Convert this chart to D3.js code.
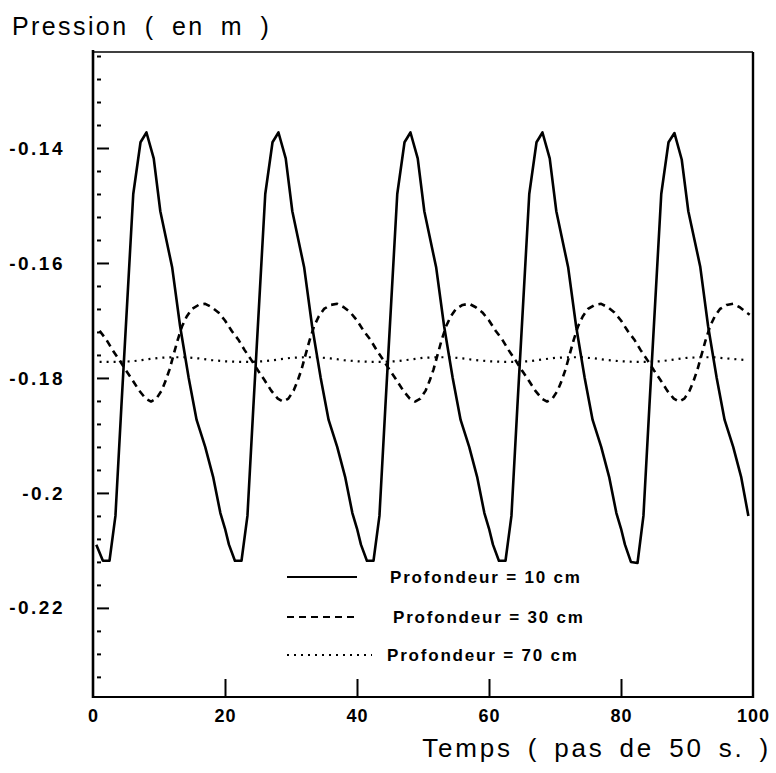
<!DOCTYPE html>
<html><head><meta charset="utf-8">
<script src="https://cdn.jsdelivr.net/npm/d3@7"></script>
<style>body{margin:0;background:#fff}svg{display:block}</style>
</head><body><svg id="c" width="776" height="773"></svg>
<script>
// ---- data ----
const xTickValues=[0,20,40,60,80,100];
const xTickLabels=["0","20","40","60","80","100"];
const yTickValues=[-0.14,-0.16,-0.18,-0.2,-0.22];
const yTickLabels=["-0.14","-0.16","-0.18","-0.2","-0.22"];
const yMinorTicks=[-0.124,-0.128,-0.132,-0.136,-0.144,-0.148,-0.152,-0.156,-0.164,-0.168,-0.172,-0.176,-0.184,-0.188,-0.192,-0.196,-0.204,-0.208,-0.212,-0.216,-0.224,-0.228,-0.232];
const legendLabels=["Profondeur = 10 cm","Profondeur = 30 cm","Profondeur = 70 cm"];
const titleY="Pression ( en m )";
const titleX="Temps ( pas de 50 s. )";

const temps10=[
0.5,1.5,2.5,3.4,4.3,5.2,6.1,7.2,8.1,9.2,10.2,12.0,13.2,14.5,15.7,17.0,18.2,19.3,
20.0,20.6,21.5,22.5,23.4,24.3,25.2,26.1,27.2,28.1,29.2,30.2,32.0,33.2,34.5,35.7,37.0,38.2,39.3,
40.0,40.6,41.5,42.5,43.4,44.3,45.2,46.1,47.2,48.1,49.2,50.2,52.0,53.2,54.5,55.7,57.0,58.2,59.3,
60.0,60.6,61.5,62.5,63.4,64.3,65.2,66.1,67.2,68.1,69.2,70.2,72.0,73.2,74.5,75.7,77.0,78.2,79.3,
80.0,80.6,81.5,82.5,83.4,84.3,85.2,86.1,87.2,88.1,89.2,90.2,92.0,93.2,94.5,95.7,97.0,98.2,99.3];
const pression10=[
-0.2090,-0.2118,-0.2118,-0.2040,-0.1850,-0.1665,-0.1480,-0.1390,-0.1373,-0.1418,-0.1510,-0.1608,-0.1710,-0.1800,-0.1873,-0.1920,-0.1972,-0.2035,
-0.2062,-0.2090,-0.2118,-0.2118,-0.2040,-0.1850,-0.1665,-0.1480,-0.1390,-0.1373,-0.1418,-0.1510,-0.1608,-0.1710,-0.1800,-0.1873,-0.1920,-0.1972,-0.2035,
-0.2062,-0.2090,-0.2118,-0.2118,-0.2040,-0.1850,-0.1665,-0.1480,-0.1390,-0.1373,-0.1418,-0.1510,-0.1608,-0.1710,-0.1800,-0.1873,-0.1920,-0.1972,-0.2035,
-0.2062,-0.2090,-0.2118,-0.2118,-0.2040,-0.1850,-0.1665,-0.1480,-0.1390,-0.1373,-0.1418,-0.1510,-0.1608,-0.1710,-0.1800,-0.1873,-0.1920,-0.1972,-0.2035,
-0.2062,-0.2090,-0.2120,-0.2122,-0.2040,-0.1850,-0.1665,-0.1480,-0.1390,-0.1374,-0.1420,-0.1510,-0.1606,-0.1710,-0.1800,-0.1873,-0.1920,-0.1972,-0.2040];

const temps30=[
1,2,3,4,5,6,7,8,8.8,9.6,10.4,11,11.6,12.2,12.8,13.5,14.2,15,16,17,18,19,
20,21,22,23,24,25,26,27,28,28.8,29.6,30.4,31,31.6,32.2,32.8,33.5,34.2,35,36,37,38,39,
40,41,42,43,44,45,46,47,48,48.8,49.6,50.4,51,51.6,52.2,52.8,53.5,54.2,55,56,57,58,59,
60,61,62,63,64,65,66,67,68,68.8,69.6,70.4,71,71.6,72.2,72.8,73.5,74.2,75,76,77,78,79,
80,81,82,83,84,85,86,87,88,88.8,89.6,90.4,91,91.6,92.2,92.8,93.5,94.2,95,96,97,98,99,99.5];
const pression30=[
-0.1718,-0.1733,-0.1752,-0.1769,-0.1787,-0.1804,-0.1822,-0.1836,-0.1841,-0.1836,-0.1822,-0.1805,-0.1785,-0.1760,-0.1735,-0.1710,-0.1693,-0.1680,-0.1673,-0.1671,-0.1677,-0.1686,
-0.1700,-0.1718,-0.1733,-0.1752,-0.1769,-0.1787,-0.1804,-0.1822,-0.1836,-0.1841,-0.1836,-0.1822,-0.1805,-0.1785,-0.1760,-0.1735,-0.1710,-0.1693,-0.1680,-0.1673,-0.1671,-0.1677,-0.1686,
-0.1700,-0.1718,-0.1733,-0.1752,-0.1769,-0.1787,-0.1804,-0.1822,-0.1836,-0.1841,-0.1836,-0.1822,-0.1805,-0.1785,-0.1760,-0.1735,-0.1710,-0.1693,-0.1680,-0.1673,-0.1671,-0.1677,-0.1686,
-0.1700,-0.1718,-0.1733,-0.1752,-0.1769,-0.1787,-0.1804,-0.1822,-0.1836,-0.1841,-0.1836,-0.1822,-0.1805,-0.1785,-0.1760,-0.1735,-0.1710,-0.1693,-0.1680,-0.1673,-0.1671,-0.1677,-0.1686,
-0.1700,-0.1718,-0.1733,-0.1752,-0.1769,-0.1787,-0.1804,-0.1822,-0.1836,-0.1841,-0.1836,-0.1822,-0.1805,-0.1785,-0.1760,-0.1735,-0.1710,-0.1693,-0.1680,-0.1673,-0.1671,-0.1677,-0.1686,-0.1690];

const temps70=[
1,2,4,6,8,10,12,14,16,18,
20,22,24,26,28,30,32,34,36,38,
40,42,44,46,48,50,52,54,56,58,
60,62,64,66,68,70,72,74,76,78,
80,82,84,86,88,90,92,94,96,98,99];
const pression70=[
-0.1772,-0.1772,-0.1772,-0.1771,-0.1768,-0.1765,-0.1764,-0.1764,-0.1766,-0.1769,
-0.1771,-0.1772,-0.1772,-0.1771,-0.1768,-0.1765,-0.1764,-0.1764,-0.1766,-0.1769,
-0.1771,-0.1772,-0.1772,-0.1771,-0.1768,-0.1765,-0.1764,-0.1764,-0.1766,-0.1769,
-0.1771,-0.1772,-0.1772,-0.1771,-0.1768,-0.1765,-0.1764,-0.1764,-0.1766,-0.1769,
-0.1771,-0.1772,-0.1772,-0.1771,-0.1768,-0.1765,-0.1764,-0.1764,-0.1766,-0.1768,-0.1769];

// ---- drawing ----
const svg=d3.select("#c");
const L=93,R=753,T=52,B=697;
const x=d3.scaleLinear().domain([0,100]).range([L,R]);
const y=d3.scaleLinear().domain([-0.2355,-0.1233]).range([B,T]);
const font="'Liberation Sans', Arial, Helvetica, sans-serif";

// frame
svg.append("line").attr("x1",L).attr("x2",L).attr("y1",T-2).attr("y2",B+1).attr("stroke","#000").attr("stroke-width",2.6);
svg.append("line").attr("x1",L).attr("x2",R).attr("y1",T).attr("y2",T).attr("stroke","#000").attr("stroke-width",1.6);
svg.append("line").attr("x1",R).attr("x2",R).attr("y1",T).attr("y2",B+1).attr("stroke","#000").attr("stroke-width",2.4);
svg.append("line").attr("x1",L).attr("x2",R).attr("y1",B).attr("y2",B).attr("stroke","#000").attr("stroke-width",2);

// y axis major
const yAxis=d3.axisLeft(y).tickValues(yTickValues).tickFormat((d,i)=>yTickLabels[i])
  .tickSizeInner(-16).tickSizeOuter(0).tickPadding(28);
const gy=svg.append("g").attr("transform",`translate(${L},0)`).call(yAxis);
gy.select(".domain").remove();
gy.selectAll(".tick line").attr("x1",4).attr("stroke-width",2);
gy.selectAll(".tick text").attr("font-family",font).attr("font-size",19).attr("font-weight","bold")
  .attr("letter-spacing","2.5px").attr("fill","#000");

// y axis minor
const yMinor=d3.axisLeft(y).tickValues(yMinorTicks).tickFormat("").tickSizeInner(-8).tickSizeOuter(0);
const gm=svg.append("g").attr("transform",`translate(${L},0)`).call(yMinor);
gm.select(".domain").remove();
gm.selectAll(".tick line").attr("x1",4).attr("stroke-width",2);

// x axis
const xAxis=d3.axisBottom(x).tickValues(xTickValues).tickFormat((d,i)=>xTickLabels[i])
  .tickSizeInner(-18).tickSizeOuter(0).tickPadding(12);
const gx=svg.append("g").attr("transform",`translate(0,${B})`).call(xAxis);
gx.select(".domain").remove();
gx.selectAll(".tick line").attr("stroke-width",2).attr("opacity",(d)=> (d===0||d===100)?0:1);
gx.selectAll(".tick text").attr("font-family",font).attr("font-size",18).attr("font-weight","bold")
  .attr("letter-spacing","1px").attr("fill","#000");

// titles
svg.append("text").attr("x",12).attr("y",35).text(titleY)
  .attr("font-family",font).attr("font-size",25).attr("letter-spacing","2.4px").attr("word-spacing","7px").attr("fill","#000");
svg.append("text").attr("x",771).attr("y",757).attr("text-anchor","end").text(titleX)
  .attr("font-family",font).attr("font-size",26).attr("letter-spacing","2.8px").attr("word-spacing","5px").attr("fill","#000");

// curves
const line=d3.line().x(d=>x(d[0])).y(d=>y(d[1]));
const series=[
  {t:temps10,v:pression10,dash:null,w:2.6},
  {t:temps30,v:pression30,dash:"7,5",w:2.6},
  {t:temps70,v:pression70,dash:"2,5",w:2.2}
];
series.forEach(s=>{
  const pts=s.t.map((t,i)=>[t,s.v[i]]);
  svg.append("path").attr("d",line(pts)).attr("fill","none").attr("stroke","#000")
    .attr("stroke-width",s.w).attr("stroke-linejoin","round")
    .attr("stroke-dasharray",s.dash);
});

// legend
const legY=[577,617,655];
const legTx=[390,393,387];
series.forEach((s,i)=>{
  svg.append("line").attr("x1",287).attr("x2",i===2?372:357).attr("y1",legY[i]).attr("y2",legY[i])
    .attr("stroke","#000").attr("stroke-width",i===0?2:2.2).attr("stroke-dasharray",s.dash);
  svg.append("text").attr("x",legTx[i]).attr("y",legY[i]+6).text(legendLabels[i])
    .attr("font-family",font).attr("font-size",17).attr("font-weight","bold")
    .attr("letter-spacing","1.8px").attr("fill","#000");
});
</script></body></html>
